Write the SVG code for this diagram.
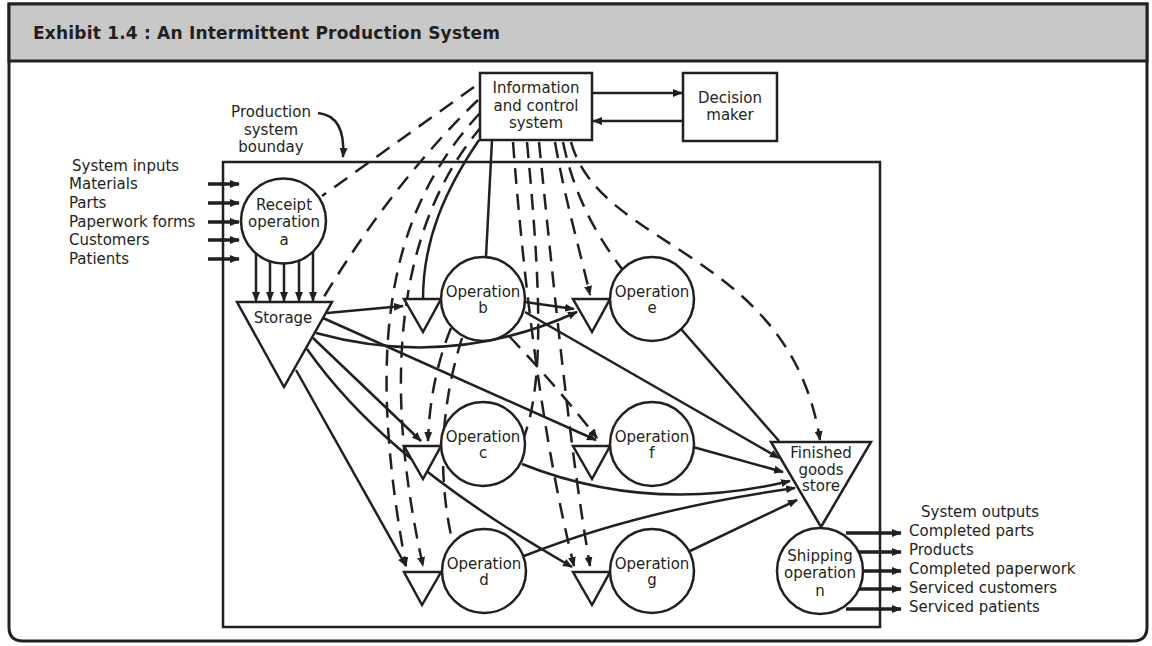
<svg xmlns="http://www.w3.org/2000/svg" width="1152" height="646" viewBox="0 0 1152 646">
  <defs>
    <marker id="ah" markerUnits="userSpaceOnUse" markerWidth="10" markerHeight="8" refX="9" refY="4" orient="auto">
      <path d="M0,0 L10,4 L0,8 z" fill="#231f20"/>
    </marker>
    <style>
      text { font-family: "DejaVu Sans", Verdana, sans-serif; font-size: 15px; fill: #231f20; }
      .c { text-anchor: middle; }
      .title { font-weight: bold; font-size: 17px; }
      .shape { fill: #fff; stroke: #231f20; stroke-width: 2.5; }
      .ln { fill: none; stroke: #231f20; stroke-width: 2.5; }
      .thick { fill: none; stroke: #231f20; stroke-width: 3.5; }
      .dash { fill: none; stroke: #231f20; stroke-width: 2.5; stroke-dasharray: 16 10; }
    </style>
  </defs>

  <!-- frame and title bar -->
  <path d="M9,4 H1147 V627 Q1147,641 1133,641 H23 Q9,641 9,627 Z" fill="#fff" stroke="#231f20" stroke-width="3"/>
  <path d="M9,4 H1147 V61 H9 Z" fill="#c8c8c8" stroke="#231f20" stroke-width="3"/>
  <text class="title" x="33" y="39" textLength="467">Exhibit 1.4 : An Intermittent Production System</text>

  <!-- production system boundary -->
  <rect x="223" y="162" width="657" height="465" fill="none" stroke="#231f20" stroke-width="2.5"/>

  <g id="connectors">
    <!-- material flows -->
    <path class="ln" d="M327,313 L403,306" marker-end="url(#ah)"/>
    <path class="ln" d="M316,333 Q450,370 577,312" marker-end="url(#ah)"/>
    <path class="ln" d="M525,302 L574,309" marker-end="url(#ah)"/>
    <path class="ln" d="M323,318 L596,440" marker-end="url(#ah)"/>
    <path class="ln" d="M313,338 L421,441" marker-end="url(#ah)"/>
    <path class="ln" d="M307,349 C350,410 420,480 572,567" marker-end="url(#ah)"/>
    <path class="ln" d="M296,370 L406,566" marker-end="url(#ah)"/>
    <path class="ln" d="M525,312 L779,458" marker-end="url(#ah)"/>
    <path class="ln" d="M681,329 L779,441"/>
    <path class="ln" d="M693,447 L783,472" marker-end="url(#ah)"/>
    <path class="ln" d="M522,464 Q650,515 790,481" marker-end="url(#ah)"/>
    <path class="ln" d="M524,556 Q640,510 795,488" marker-end="url(#ah)"/>
    <path class="ln" d="M690,551 L797,500" marker-end="url(#ah)"/>
    <path class="ln" d="M492,140 L486,257"/>
    <path class="ln" d="M479,140 C445,190 423,240 423,299"/>
    <path class="ln" d="M592,93 L682,93" marker-end="url(#ah)"/>
    <path class="ln" d="M683,121 L593,121" marker-end="url(#ah)"/>
    <path class="ln" d="M318,113 Q346,116 343,157" marker-end="url(#ah)"/>

    <!-- receipt to storage -->
    <path class="ln" d="M256,253 V301" stroke-width="3" marker-end="url(#ah)"/>
    <path class="ln" d="M270,261 V301" stroke-width="3" marker-end="url(#ah)"/>
    <path class="ln" d="M284,263 V301" stroke-width="3" marker-end="url(#ah)"/>
    <path class="ln" d="M299,260 V301" stroke-width="3" marker-end="url(#ah)"/>
    <path class="ln" d="M313,252 V301" stroke-width="3" marker-end="url(#ah)"/>

    <!-- system inputs -->
    <path class="thick" d="M208,184 H239" marker-end="url(#ah)"/>
    <path class="thick" d="M208,203 H239" marker-end="url(#ah)"/>
    <path class="thick" d="M208,222 H239" marker-end="url(#ah)"/>
    <path class="thick" d="M208,240 H239" marker-end="url(#ah)"/>
    <path class="thick" d="M208,259 H239" marker-end="url(#ah)"/>

    <!-- system outputs -->
    <path class="thick" d="M846,533 H901" marker-end="url(#ah)"/>
    <path class="thick" d="M859,552 H901" marker-end="url(#ah)"/>
    <path class="thick" d="M864,571 H901" marker-end="url(#ah)"/>
    <path class="thick" d="M859,589 H901" marker-end="url(#ah)"/>
    <path class="thick" d="M846,609 H901" marker-end="url(#ah)"/>

    <!-- information flows -->
    <path class="dash" d="M474,87 L322,196"/>
    <path class="dash" d="M478,100 Q395,180 322,300"/>
    <path class="dash" d="M480,113 C400,200 360,320 406,566" marker-end="url(#ah)"/>
    <path class="dash" d="M482,126 C410,210 375,350 423,566" marker-end="url(#ah)"/>
    <path class="dash" d="M513,142 C525,300 545,450 574,566" marker-end="url(#ah)"/>
    <path class="dash" d="M527,142 C540,280 545,380 524,437"/>
    <path class="dash" d="M539,142 C555,300 570,450 590,566" marker-end="url(#ah)"/>
    <path class="dash" d="M555,142 C565,200 580,250 590,295" marker-end="url(#ah)"/>
    <path class="dash" d="M563,142 C575,200 600,240 622,269"/>
    <path class="dash" d="M571,142 C600,250 790,250 820,440" marker-end="url(#ah)"/>
    <path class="dash" d="M451,328 Q430,380 428,441" marker-end="url(#ah)"/>
    <path class="dash" d="M462,338 Q430,440 452,540"/>
    <path class="dash" d="M509,336 Q560,390 597,438" marker-end="url(#ah)"/>
  </g>

  <g id="info-system">
    <rect class="shape" x="480" y="73" width="112" height="67"/>
    <text class="c" x="536" y="93">Information</text>
    <text class="c" x="536" y="111">and control</text>
    <text class="c" x="536" y="128">system</text>
  </g>
  <g id="decision-maker">
    <rect class="shape" x="683" y="73" width="94" height="68"/>
    <text class="c" x="730" y="103">Decision</text>
    <text class="c" x="730" y="120">maker</text>
  </g>
  <g id="boundary-label">
    <text class="c" x="271" y="117">Production</text>
    <text class="c" x="271" y="135">system</text>
    <text class="c" x="271" y="152">bounday</text>
  </g>
  <g id="inputs">
    <text x="72" y="171">System inputs</text>
    <text x="69" y="189">Materials</text>
    <text x="69" y="208">Parts</text>
    <text x="69" y="227">Paperwork forms</text>
    <text x="69" y="245">Customers</text>
    <text x="69" y="264">Patients</text>
  </g>
  <g id="receipt">
    <circle class="shape" cx="283.5" cy="221" r="42.5"/>
    <text class="c" x="284" y="210">Receipt</text>
    <text class="c" x="284" y="227">operation</text>
    <text class="c" x="284" y="245">a</text>
  </g>
  <g id="storage">
    <path class="shape" d="M237,302 H332 L284,387 Z"/>
    <text class="c" x="283" y="323">Storage</text>
  </g>
  <g id="op-b">
    <path class="shape" d="M404,299 H441 L423,332 Z"/>
    <circle class="shape" cx="483" cy="299" r="42"/>
    <text class="c" x="483" y="297">Operation</text>
    <text class="c" x="483" y="313">b</text>
  </g>
  <g id="op-e">
    <path class="shape" d="M573,299 H610 L592,332 Z"/>
    <circle class="shape" cx="652" cy="299" r="42"/>
    <text class="c" x="652" y="297">Operation</text>
    <text class="c" x="652" y="313">e</text>
  </g>
  <g id="op-c">
    <path class="shape" d="M404,446 H441 L423,479 Z"/>
    <circle class="shape" cx="483" cy="444" r="42"/>
    <text class="c" x="483" y="442">Operation</text>
    <text class="c" x="483" y="458">c</text>
  </g>
  <g id="op-f">
    <path class="shape" d="M573,446 H610 L592,479 Z"/>
    <circle class="shape" cx="652" cy="444" r="42"/>
    <text class="c" x="652" y="442">Operation</text>
    <text class="c" x="652" y="458">f</text>
  </g>
  <g id="op-d">
    <path class="shape" d="M404,572 H441 L422,605 Z"/>
    <circle class="shape" cx="484" cy="571" r="42"/>
    <text class="c" x="484" y="569">Operation</text>
    <text class="c" x="484" y="585">d</text>
  </g>
  <g id="op-g">
    <path class="shape" d="M573,572 H610 L592,605 Z"/>
    <circle class="shape" cx="652" cy="571" r="42"/>
    <text class="c" x="652" y="569">Operation</text>
    <text class="c" x="652" y="585">g</text>
  </g>
  <g id="finished-goods">
    <path class="shape" d="M771,442 H871 L821,527 Z"/>
    <text class="c" x="821" y="458">Finished</text>
    <text class="c" x="821" y="475">goods</text>
    <text class="c" x="821" y="491">store</text>
  </g>
  <g id="shipping">
    <circle class="shape" cx="820" cy="571" r="43"/>
    <text class="c" x="820" y="561">Shipping</text>
    <text class="c" x="820" y="578">operation</text>
    <text class="c" x="820" y="596">n</text>
  </g>
  <g id="outputs">
    <text x="921" y="517">System outputs</text>
    <text x="909" y="536">Completed parts</text>
    <text x="909" y="555">Products</text>
    <text x="909" y="574">Completed paperwork</text>
    <text x="909" y="593">Serviced customers</text>
    <text x="909" y="612">Serviced patients</text>
  </g>
</svg>
